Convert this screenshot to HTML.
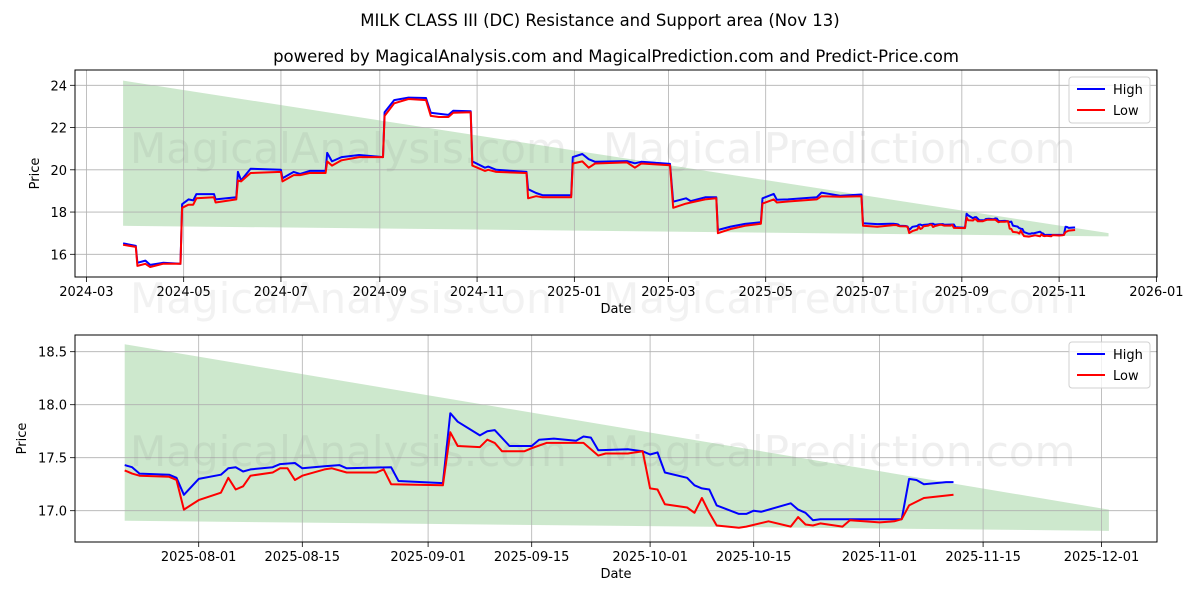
<!DOCTYPE html>
<html><head><meta charset="utf-8"><style>
html,body{margin:0;padding:0;background:#fff;}
svg{display:block;font-family:"DejaVu Sans","Liberation Sans",sans-serif;}
</style></head><body>
<svg id="chart" width="1200" height="600" viewBox="0 0 1200 600">
<text x="600" y="26" text-anchor="middle" font-size="16.5">MILK CLASS III (DC) Resistance and Support area (Nov 13)</text>
<text x="616" y="62" text-anchor="middle" font-size="16.5">powered by MagicalAnalysis.com and MagicalPrediction.com and Predict-Price.com</text>
</svg>
<script>
// ---- data: early history (top chart only) ----
const earlyDates=["2024-03-24","2024-04-01","2024-04-02","2024-04-07","2024-04-10","2024-04-18","2024-04-29","2024-04-30","2024-05-04","2024-05-07","2024-05-09","2024-05-20","2024-05-21","2024-06-03","2024-06-04","2024-06-06","2024-06-12","2024-07-01","2024-07-02","2024-07-09","2024-07-13","2024-07-19","2024-07-29","2024-07-30","2024-08-02","2024-08-08","2024-08-19","2024-09-03","2024-09-04","2024-09-10","2024-09-19","2024-09-30","2024-10-03","2024-10-08","2024-10-14","2024-10-17","2024-10-28","2024-10-29","2024-11-06","2024-11-08","2024-11-13","2024-12-02","2024-12-03","2024-12-08","2024-12-12","2024-12-30","2024-12-31","2025-01-06","2025-01-10","2025-01-14","2025-02-03","2025-02-08","2025-02-12","2025-03-02","2025-03-04","2025-03-12","2025-03-15","2025-03-24","2025-03-31","2025-04-01","2025-04-09","2025-04-18","2025-04-28","2025-04-29","2025-05-06","2025-05-08","2025-05-15","2025-06-02","2025-06-05","2025-06-17","2025-06-30","2025-07-01","2025-07-10","2025-07-20"];
const earlyHigh=[16.52,16.4,15.6,15.7,15.5,15.6,15.55,18.37,18.6,18.55,18.85,18.85,18.6,18.7,19.9,19.5,20.05,20.0,19.6,19.9,19.8,19.95,19.95,20.8,20.4,20.6,20.7,20.6,22.72,23.3,23.42,23.4,22.7,22.65,22.6,22.8,22.77,20.4,20.1,20.15,20.0,19.9,19.08,18.9,18.8,18.8,20.6,20.75,20.5,20.38,20.41,20.31,20.38,20.28,18.49,18.65,18.52,18.7,18.7,17.15,17.31,17.44,17.52,18.65,18.86,18.58,18.6,18.7,18.92,18.77,18.83,17.47,17.43,17.45];
const earlyLow=[16.45,16.35,15.45,15.55,15.4,15.55,15.55,18.2,18.35,18.35,18.65,18.7,18.45,18.6,19.5,19.45,19.85,19.9,19.45,19.75,19.75,19.85,19.85,20.4,20.2,20.45,20.6,20.6,22.55,23.15,23.35,23.3,22.55,22.5,22.5,22.7,22.72,20.2,19.95,20.0,19.9,19.85,18.65,18.75,18.7,18.7,20.3,20.4,20.1,20.3,20.35,20.1,20.3,20.22,18.2,18.4,18.45,18.6,18.65,17.0,17.2,17.35,17.45,18.4,18.6,18.45,18.5,18.6,18.75,18.72,18.75,17.35,17.3,17.38];
// ---- data: recent (both charts) ----
const highDates=["2025-07-22","2025-07-23","2025-07-24","2025-07-28","2025-07-29","2025-07-30","2025-08-01","2025-08-04","2025-08-05","2025-08-06","2025-08-07","2025-08-08","2025-08-11","2025-08-12","2025-08-14","2025-08-15","2025-08-18","2025-08-20","2025-08-21","2025-08-27","2025-08-28","2025-09-03","2025-09-04","2025-09-05","2025-09-08","2025-09-09","2025-09-10","2025-09-12","2025-09-15","2025-09-16","2025-09-18","2025-09-21","2025-09-22","2025-09-23","2025-09-24","2025-09-28","2025-09-30","2025-10-01","2025-10-02","2025-10-03","2025-10-06","2025-10-07","2025-10-08","2025-10-09","2025-10-10","2025-10-13","2025-10-14","2025-10-15","2025-10-16","2025-10-20","2025-10-21","2025-10-22","2025-10-23","2025-10-24","2025-10-27","2025-11-04","2025-11-05","2025-11-06","2025-11-07","2025-11-10","2025-11-11"];
const highVals=[17.43,17.41,17.35,17.34,17.31,17.15,17.30,17.34,17.40,17.41,17.37,17.39,17.41,17.44,17.45,17.40,17.42,17.43,17.40,17.41,17.28,17.26,17.92,17.84,17.71,17.75,17.76,17.61,17.61,17.67,17.68,17.66,17.70,17.69,17.57,17.58,17.56,17.53,17.55,17.36,17.31,17.24,17.21,17.20,17.05,16.97,16.97,17.0,16.99,17.07,17.01,16.98,16.91,16.92,16.92,16.92,17.30,17.29,17.25,17.27,17.27];
const lowDates=["2025-07-22","2025-07-23","2025-07-24","2025-07-28","2025-07-29","2025-07-30","2025-08-01","2025-08-04","2025-08-05","2025-08-06","2025-08-07","2025-08-08","2025-08-11","2025-08-12","2025-08-13","2025-08-14","2025-08-15","2025-08-18","2025-08-19","2025-08-21","2025-08-25","2025-08-26","2025-08-27","2025-09-03","2025-09-04","2025-09-05","2025-09-08","2025-09-09","2025-09-10","2025-09-11","2025-09-14","2025-09-15","2025-09-17","2025-09-21","2025-09-22","2025-09-24","2025-09-25","2025-09-28","2025-09-30","2025-10-01","2025-10-02","2025-10-03","2025-10-06","2025-10-07","2025-10-08","2025-10-09","2025-10-10","2025-10-13","2025-10-14","2025-10-17","2025-10-20","2025-10-21","2025-10-22","2025-10-23","2025-10-24","2025-10-27","2025-10-28","2025-11-01","2025-11-03","2025-11-04","2025-11-05","2025-11-07","2025-11-11"];
const lowVals=[17.38,17.35,17.33,17.32,17.29,17.01,17.10,17.17,17.31,17.20,17.23,17.33,17.36,17.40,17.40,17.29,17.33,17.39,17.40,17.36,17.36,17.39,17.25,17.24,17.74,17.61,17.60,17.67,17.64,17.56,17.56,17.59,17.64,17.64,17.64,17.52,17.54,17.54,17.56,17.21,17.20,17.06,17.03,16.98,17.12,16.98,16.86,16.84,16.85,16.90,16.85,16.94,16.87,16.86,16.88,16.85,16.91,16.89,16.90,16.92,17.05,17.12,17.15];
// ---- band (start/end dates, top & bottom values) ----
const topBandDates=["2024-03-24","2025-12-02"];
const topBandUpper=[24.22,17.0];
const topBandLower=[17.35,16.85];
const botBandDates=["2025-07-22","2025-12-02"];
const botBandUpper=[18.57,17.01];
const botBandLower=[16.905,16.81];
// ---- ticks ----
const topYTicks=[16,18,20,22,24];
const topXTicks=["2024-03","2024-05","2024-07","2024-09","2024-11","2025-01","2025-03","2025-05","2025-07","2025-09","2025-11","2026-01"];
const botYTicks=[17.0,17.5,18.0,18.5];
const botXTicks=["2025-08-01","2025-08-15","2025-09-01","2025-09-15","2025-10-01","2025-10-15","2025-11-01","2025-11-15","2025-12-01"];

const NS="http://www.w3.org/2000/svg";
const svg=document.getElementById('chart');
function el(tag,attrs,parent){const e=document.createElementNS(NS,tag);for(const k in attrs)e.setAttribute(k,attrs[k]);(parent||svg).appendChild(e);return e;}
function day(s){if(s.length===7)s+="-01";return Date.UTC(+s.slice(0,4),+s.slice(5,7)-1,+s.slice(8,10))/86400000;}

function panel(cfg){
  const {L,R,T,B}=cfg;
  const d0=day(cfg.refDate);
  const xs=d=>cfg.refX+(day(d)-d0)*cfg.pxDay;
  const ys=v=>cfg.refY-(v-cfg.refV)*cfg.pxUnit;
  const g=el('g',{});
  
  
  // clip
  const cid=cfg.name+'-clip';
  const cp=el('clipPath',{id:cid},g);el('rect',{x:L,y:T,width:R-L,height:B-T},cp);
  // band
  const bx0=xs(cfg.band[0][0]),bx1=xs(cfg.band[0][1]);
  const band=el('polygon',{points:`${bx0},${ys(cfg.band[1][0])} ${bx1},${ys(cfg.band[1][1])} ${bx1},${ys(cfg.band[2][1])} ${bx0},${ys(cfg.band[2][0])}`,fill:'#2ca02c','fill-opacity':0.24,'clip-path':`url(#${cid})`},g);
  
  
  // grid
  cfg.xt.forEach(t=>{const x=xs(t);
    const gl=el('line',{x1:x,x2:x,y1:T,y2:B,stroke:'#b0b0b0','stroke-width':0.8},g);
    
    el('line',{x1:x,x2:x,y1:B,y2:B+5,stroke:'#000','stroke-width':0.8},g);
    const tx=el('text',{x:x,y:B+19,'text-anchor':'middle','font-size':13},g);tx.textContent=t;
    });
  cfg.yt.forEach(v=>{const y=ys(v);
    const gl=el('line',{x1:L,x2:R,y1:y,y2:y,stroke:'#b0b0b0','stroke-width':0.8},g);
    
    el('line',{x1:L-5,x2:L,y1:y,y2:y,stroke:'#000','stroke-width':0.8},g);
    const tx=el('text',{x:L-8,y:y+5,'text-anchor':'end','font-size':13},g);tx.textContent=cfg.yfmt(v);
    });
  // watermarks
  cfg.wm.forEach(w=>{const t=el('text',{x:w[1],y:w[2],'font-size':42,fill:'#808080','fill-opacity':0.13},g);t.textContent=w[0];
    });
  // series
  function line(dates,vals,color,name){
    const pts=dates.map((d,i)=>xs(d).toFixed(1)+','+ys(vals[i]).toFixed(1)).join(' ');
    const p=el('polyline',{points:pts,fill:'none',stroke:color,'stroke-width':2,'stroke-linejoin':'round','clip-path':`url(#${cid})`},g);
    
    
  }
  line(cfg.hd,cfg.hv,'#0000ff','high-line');
  line(cfg.ld,cfg.lv,'#ff0000','low-line');
  // frame
  const fr=el('rect',{x:L,y:T,width:R-L,height:B-T,fill:'none',stroke:'#000','stroke-width':1},g);
  
  // axis titles
  const xl=el('text',{x:(L+R)/2,y:B+36,'text-anchor':'middle','font-size':13},g);xl.textContent='Date';
  
  const yc=(T+B)/2;
  const yl=el('text',{x:cfg.ylx,y:yc,'text-anchor':'middle','font-size':13,transform:`rotate(-90 ${cfg.ylx} ${yc})`},g);yl.textContent='Price';
  
  // legend
  const lg=el('g',{},g);
  
  const lx=R-88,ly=T+7;
  el('rect',{x:lx,y:ly,width:81,height:46,rx:3,fill:'#fff','fill-opacity':0.8,stroke:'#d0d0d0'},lg);
  [['High','#0000ff'],['Low','#ff0000']].forEach((e,i)=>{
    const yy=ly+12+i*21;
    const ln=el('line',{x1:lx+8,x2:lx+36,y1:yy,y2:yy,stroke:e[1],'stroke-width':2},lg);
    
    const t=el('text',{x:lx+44,y:yy+5,'font-size':13},lg);t.textContent=e[0];
    
  });
}

panel({name:'top-panel',L:75,R:1157,T:70,B:277,refDate:'2024-03-01',refX:86.4,pxDay:1.5946,refV:16,refY:254.3,pxUnit:21.125,
  band:[topBandDates,topBandUpper,topBandLower],xt:topXTicks,yt:topYTicks,yfmt:v=>String(v),ylx:39,
  wm:[['MagicalAnalysis.com',130,163],['MagicalPrediction.com',603,163]],
  hd:earlyDates.concat(highDates),hv:earlyHigh.concat(highVals),ld:earlyDates.concat(lowDates),lv:earlyLow.concat(lowVals)});
panel({name:'bottom-panel',L:75,R:1157,T:335,B:542,refDate:'2025-08-01',refX:198.7,pxDay:7.40,refV:17,refY:510.7,pxUnit:106,
  band:[botBandDates,botBandUpper,botBandLower],xt:botXTicks,yt:botYTicks,yfmt:v=>v.toFixed(1),ylx:26,
  wm:[['MagicalAnalysis.com',130,466],['MagicalPrediction.com',603,466]],
  hd:highDates,hv:highVals,ld:lowDates,lv:lowVals});
// watermark between panels
[['MagicalAnalysis.com',130,313],['MagicalPrediction.com',603,313]].forEach(w=>{
  const t=el('text',{x:w[1],y:w[2],'font-size':42,fill:'#808080','fill-opacity':0.1});t.textContent=w[0];
  
  
});
</script>
</body></html>
